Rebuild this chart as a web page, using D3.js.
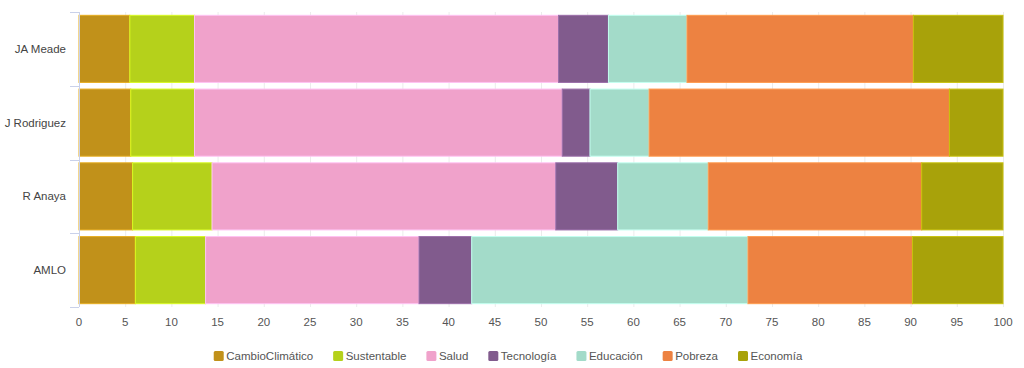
<!DOCTYPE html>
<html>
<head>
<meta charset="utf-8">
<script src="https://cdn.jsdelivr.net/npm/d3@7"></script>
<style>
  html, body { margin: 0; padding: 0; background: #fff; }
  svg { display: block; font-family: "Liberation Sans", Arial, sans-serif; }
</style>
</head>
<body>
<svg id="chart" width="1024" height="368"></svg>
<script>
const categories = ["JA Meade", "J Rodriguez", "R Anaya", "AMLO"];
const seriesNames = ["CambioClimático", "Sustentable", "Salud", "Tecnología", "Educación", "Pobreza", "Economía"];
const seriesColors = ["#c1911a", "#b5d11b", "#f0a2cb", "#815b8d", "#a3dbc9", "#ed8241", "#a8a20a"];
const CambioClimatico = [5.5, 5.6, 5.8, 6.1];
const Sustentable     = [7.0, 6.9, 8.6, 7.6];
const Salud           = [39.4, 39.8, 37.2, 23.1];
const Tecnologia      = [5.4, 3.0, 6.7, 5.7];
const Educacion       = [8.5, 6.4, 9.8, 29.9];
const Pobreza         = [24.5, 32.5, 23.1, 17.8];
const Economia        = [9.7, 5.8, 8.8, 9.8];
const xTicks = d3.range(0, 101, 5);

const seriesValues = [CambioClimatico, Sustentable, Salud, Tecnologia, Educacion, Pobreza, Economia];
const table = categories.map((c, i) => {
  const row = { cat: c };
  seriesNames.forEach((s, j) => row[s] = seriesValues[j][i]);
  return row;
});
const stacked = d3.stack().keys(seriesNames)(table);

const svg = d3.select("#chart");
const mLeft = 79, mRight = 1003, mTop = 12, mBottom = 307;
const fontSize = 11.5;
const x = d3.scaleLinear().domain([0, 100]).range([mLeft, mRight]);
const y = d3.scaleBand().domain(categories).range([mTop, mBottom]).paddingInner(0.09).paddingOuter(0.045);
const color = d3.scaleOrdinal().domain(seriesNames).range(seriesColors);

// gridlines
svg.append("g").selectAll("line").data(xTicks).join("line")
  .attr("x1", d => x(d) + 0.5).attr("x2", d => x(d) + 0.5)
  .attr("y1", mTop).attr("y2", mBottom)
  .attr("stroke", "#ececec").attr("stroke-width", 1);

// bars
svg.append("g").selectAll("g").data(stacked).join("g")
  .attr("fill", d => color(d.key))
  .attr("stroke", d => d3.color(color(d.key)).brighter(0.5))
  .selectAll("rect").data(d => d).join("rect")
  .attr("x", d => x(d[0]))
  .attr("width", d => x(d[1]) - x(d[0]))
  .attr("y", d => y(d.data.cat))
  .attr("height", y.bandwidth())
  .attr("stroke-width", 1);

// y axis
const yAxis = svg.append("g").attr("transform", `translate(${mLeft},0)`);
yAxis.append("line").attr("x1", 0.5).attr("x2", 0.5).attr("y1", mTop).attr("y2", mBottom)
  .attr("stroke", "#c9d1ea");
yAxis.selectAll("line.tk").data(d3.range(categories.length + 1)).join("line")
  .attr("class", "tk")
  .attr("x1", -9).attr("x2", 0)
  .attr("y1", i => Math.round(mTop + i * (mBottom - mTop) / categories.length) + 0.5)
  .attr("y2", i => Math.round(mTop + i * (mBottom - mTop) / categories.length) + 0.5)
  .attr("stroke", "#c9d1ea");
yAxis.selectAll("text").data(categories).join("text")
  .attr("x", -13)
  .attr("y", d => y(d) + y.bandwidth() / 2)
  .attr("dy", "0.35em")
  .attr("text-anchor", "end")
  .attr("font-size", fontSize)
  .attr("fill", "#444")
  .text(d => d);

// x axis labels
svg.append("g").selectAll("text").data(xTicks).join("text")
  .attr("x", d => x(d))
  .attr("y", 322)
  .attr("dy", "0.35em")
  .attr("text-anchor", "middle")
  .attr("font-size", fontSize)
  .attr("fill", "#555")
  .text(d => d);

// legend
const legend = svg.append("g");
const items = legend.selectAll("g").data(seriesNames).join("g");
items.append("rect").attr("width", 10).attr("height", 10).attr("rx", 1.5)
  .attr("y", -5).attr("fill", d => color(d));
items.append("text").attr("x", 12.5).attr("dy", "0.35em")
  .attr("font-size", fontSize).attr("fill", "#555").text(d => d);
let pos = 0;
const positions = [];
items.each(function () {
  positions.push(pos);
  const w = d3.select(this).select("text").node().getComputedTextLength();
  pos += 12.5 + w + 20;
});
const total = pos - 20;
const startX = 508 - total / 2;
items.attr("transform", (d, i) => `translate(${startX + positions[i]},356)`);
</script>
</body>
</html>
